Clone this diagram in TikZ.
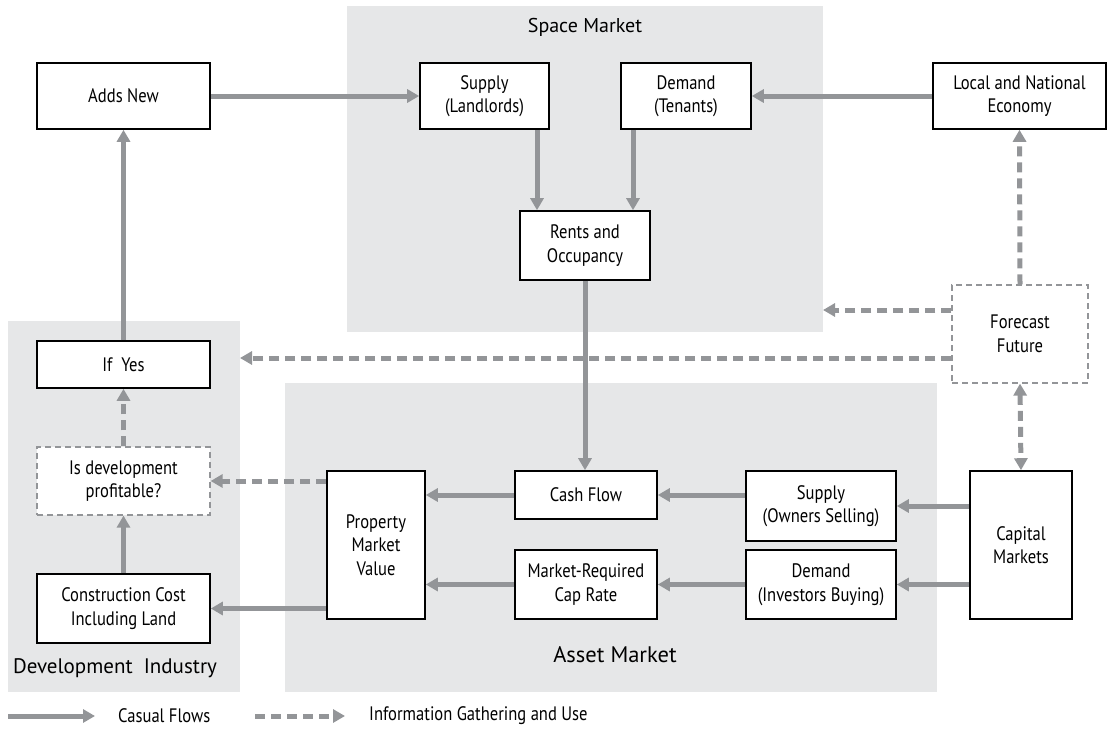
\documentclass[tikz,border=0pt]{standalone}
\usepackage{fontspec}
\setmainfont{PT Sans}
\newfontfamily\condfont[FakeStretch=0.85]{PT Sans}
\usetikzlibrary{arrows.meta}
\definecolor{regiongray}{HTML}{E6E7E8}
\definecolor{arrowgray}{HTML}{939598}
\begin{document}
\begin{tikzpicture}[x=1pt,y=-1pt,
  region/.style={fill=regiongray, draw=none},
  regionlabel/.style={inner sep=0pt},
  box/.style={draw=black, line width=1.6pt, fill=white, align=center, inner sep=0pt,
    font=\condfont\fontsize{19.5}{23.5}\selectfont},
  dbox/.style={box, draw=arrowgray, line width=1.2pt, dash pattern=on 6pt off 4pt},
  flow/.style={draw=arrowgray, line width=5pt, -{Triangle[length=12pt,width=13pt]}},
  info/.style={flow, dash pattern=on 10pt off 6pt},
  infoboth/.style={info, {Triangle[length=12pt,width=13pt]}-{Triangle[length=12pt,width=13pt]}},
  legendtext/.style={font=\condfont\fontsize{19.5}{23.5}\selectfont, anchor=west, inner sep=0pt},
]
\useasboundingbox (0,0) rectangle (1109,736);
% regions
\fill[region] (347,6) rectangle (823,332);
\fill[region] (8,321) rectangle (240,692);
\fill[region] (285,383) rectangle (937,692);
\node[regionlabel, font=\fontsize{20}{24}\selectfont] (spacelbl) at (585,27) {Space Market};
\node[regionlabel, font=\fontsize{21}{25}\selectfont] (devlbl) at (115,668) {Development\ \ Industry};
\node[regionlabel, font=\fontsize{22.5}{26}\selectfont] (assetlbl) at (615,655) {Asset Market};
\coordinate (spaceE) at (823,310);
\coordinate (devE) at (240,358);

% boxes
\node[box, minimum width=173, minimum height=66] (addsnew) at (123.5,96) {Adds New};
\node[box, minimum width=129, minimum height=66] (supL) at (484.5,96) {Supply\\(Landlords)};
\node[box, minimum width=130, minimum height=66] (demT) at (686,96) {Demand\\(Tenants)};
\node[box, minimum width=173, minimum height=66] (local) at (1019.5,96) {Local and National\\Economy};
\node[box, minimum width=130, minimum height=69] (rents) at (585,245.5) {Rents and\\Occupancy};
\node[dbox, minimum width=136, minimum height=98] (forecast) at (1020,334) {Forecast\\Future};
\node[box, minimum width=173, minimum height=47] (ifyes) at (123.5,364.5) {If\ \ Yes};
\node[dbox, minimum width=173, minimum height=68] (isdev) at (123.5,481) {Is development\\profitable?};
\node[box, minimum width=173, minimum height=69] (constr) at (123.5,608.5) {Construction Cost\\Including Land};
\node[box, minimum width=98, minimum height=148] (pmv) at (376,545) {Property\\Market\\Value};
\node[box, minimum width=142, minimum height=48] (cash) at (586,495) {Cash Flow};
\node[box, minimum width=142, minimum height=69] (caprate) at (586,584.5) {Market-Required\\Cap Rate};
\node[box, minimum width=150, minimum height=70] (supO) at (821,506) {Supply\\(Owners Selling)};
\node[box, minimum width=150, minimum height=69] (demI) at (821,584.5) {Demand\\(Investors Buying)};
\node[box, minimum width=102, minimum height=148] (capital) at (1021,545) {Capital\\Markets};

% causal flows
\draw[flow] (addsnew.east) -- (supL.west);
\draw[flow] (local.west) -- (demT.east);
\coordinate (s1) at ([xshift=52.5pt]supL.south);
\coordinate (d1) at ([xshift=-53pt]demT.south);
\draw[flow] (s1) -- (s1 |- rents.north);
\draw[flow] (d1) -- (d1 |- rents.north);
\draw[flow] (rents.south) -- (rents.south |- cash.north);
\draw[flow] (cash.west) -- (cash.west -| pmv.east);
\draw[flow] (caprate.west) -- (caprate.west -| pmv.east);
\draw[flow] (supO.west |- cash.east) -- (cash.east);
\draw[flow] (demI.west) -- (caprate.east);
\draw[flow] (capital.west |- supO.east) -- (supO.east);
\draw[flow] (capital.west |- demI.east) -- (demI.east);
\draw[flow] (pmv.west |- constr.east) -- (constr.east);
\draw[flow] (constr.north) -- (isdev.south);
\draw[flow] (ifyes.north) -- (addsnew.south);

% information flows
\draw[info] (pmv.west |- isdev.east) -- (isdev.east);
\draw[info] (isdev.north) -- (ifyes.south);
\draw[info] (forecast.north) -- (local.south);
\draw[info] (forecast.west |- spaceE) -- (spaceE);
\draw[info] (forecast.west |- devE) -- (devE);
\draw[infoboth] (forecast.south) -- (capital.north);

% legend
\coordinate (l1a) at (8,716);
\coordinate (l1b) at (95,716);
\coordinate (l2a) at (255,716);
\coordinate (l2b) at (345,716);
\draw[flow] (l1a) -- (l1b);
\draw[info] (l2a) -- (l2b);
\node[legendtext] (lt1) at (118,716) {Casual Flows};
\node[legendtext] (lt2) at (369,716) {Information Gathering and Use};
\end{tikzpicture}
\end{document}
